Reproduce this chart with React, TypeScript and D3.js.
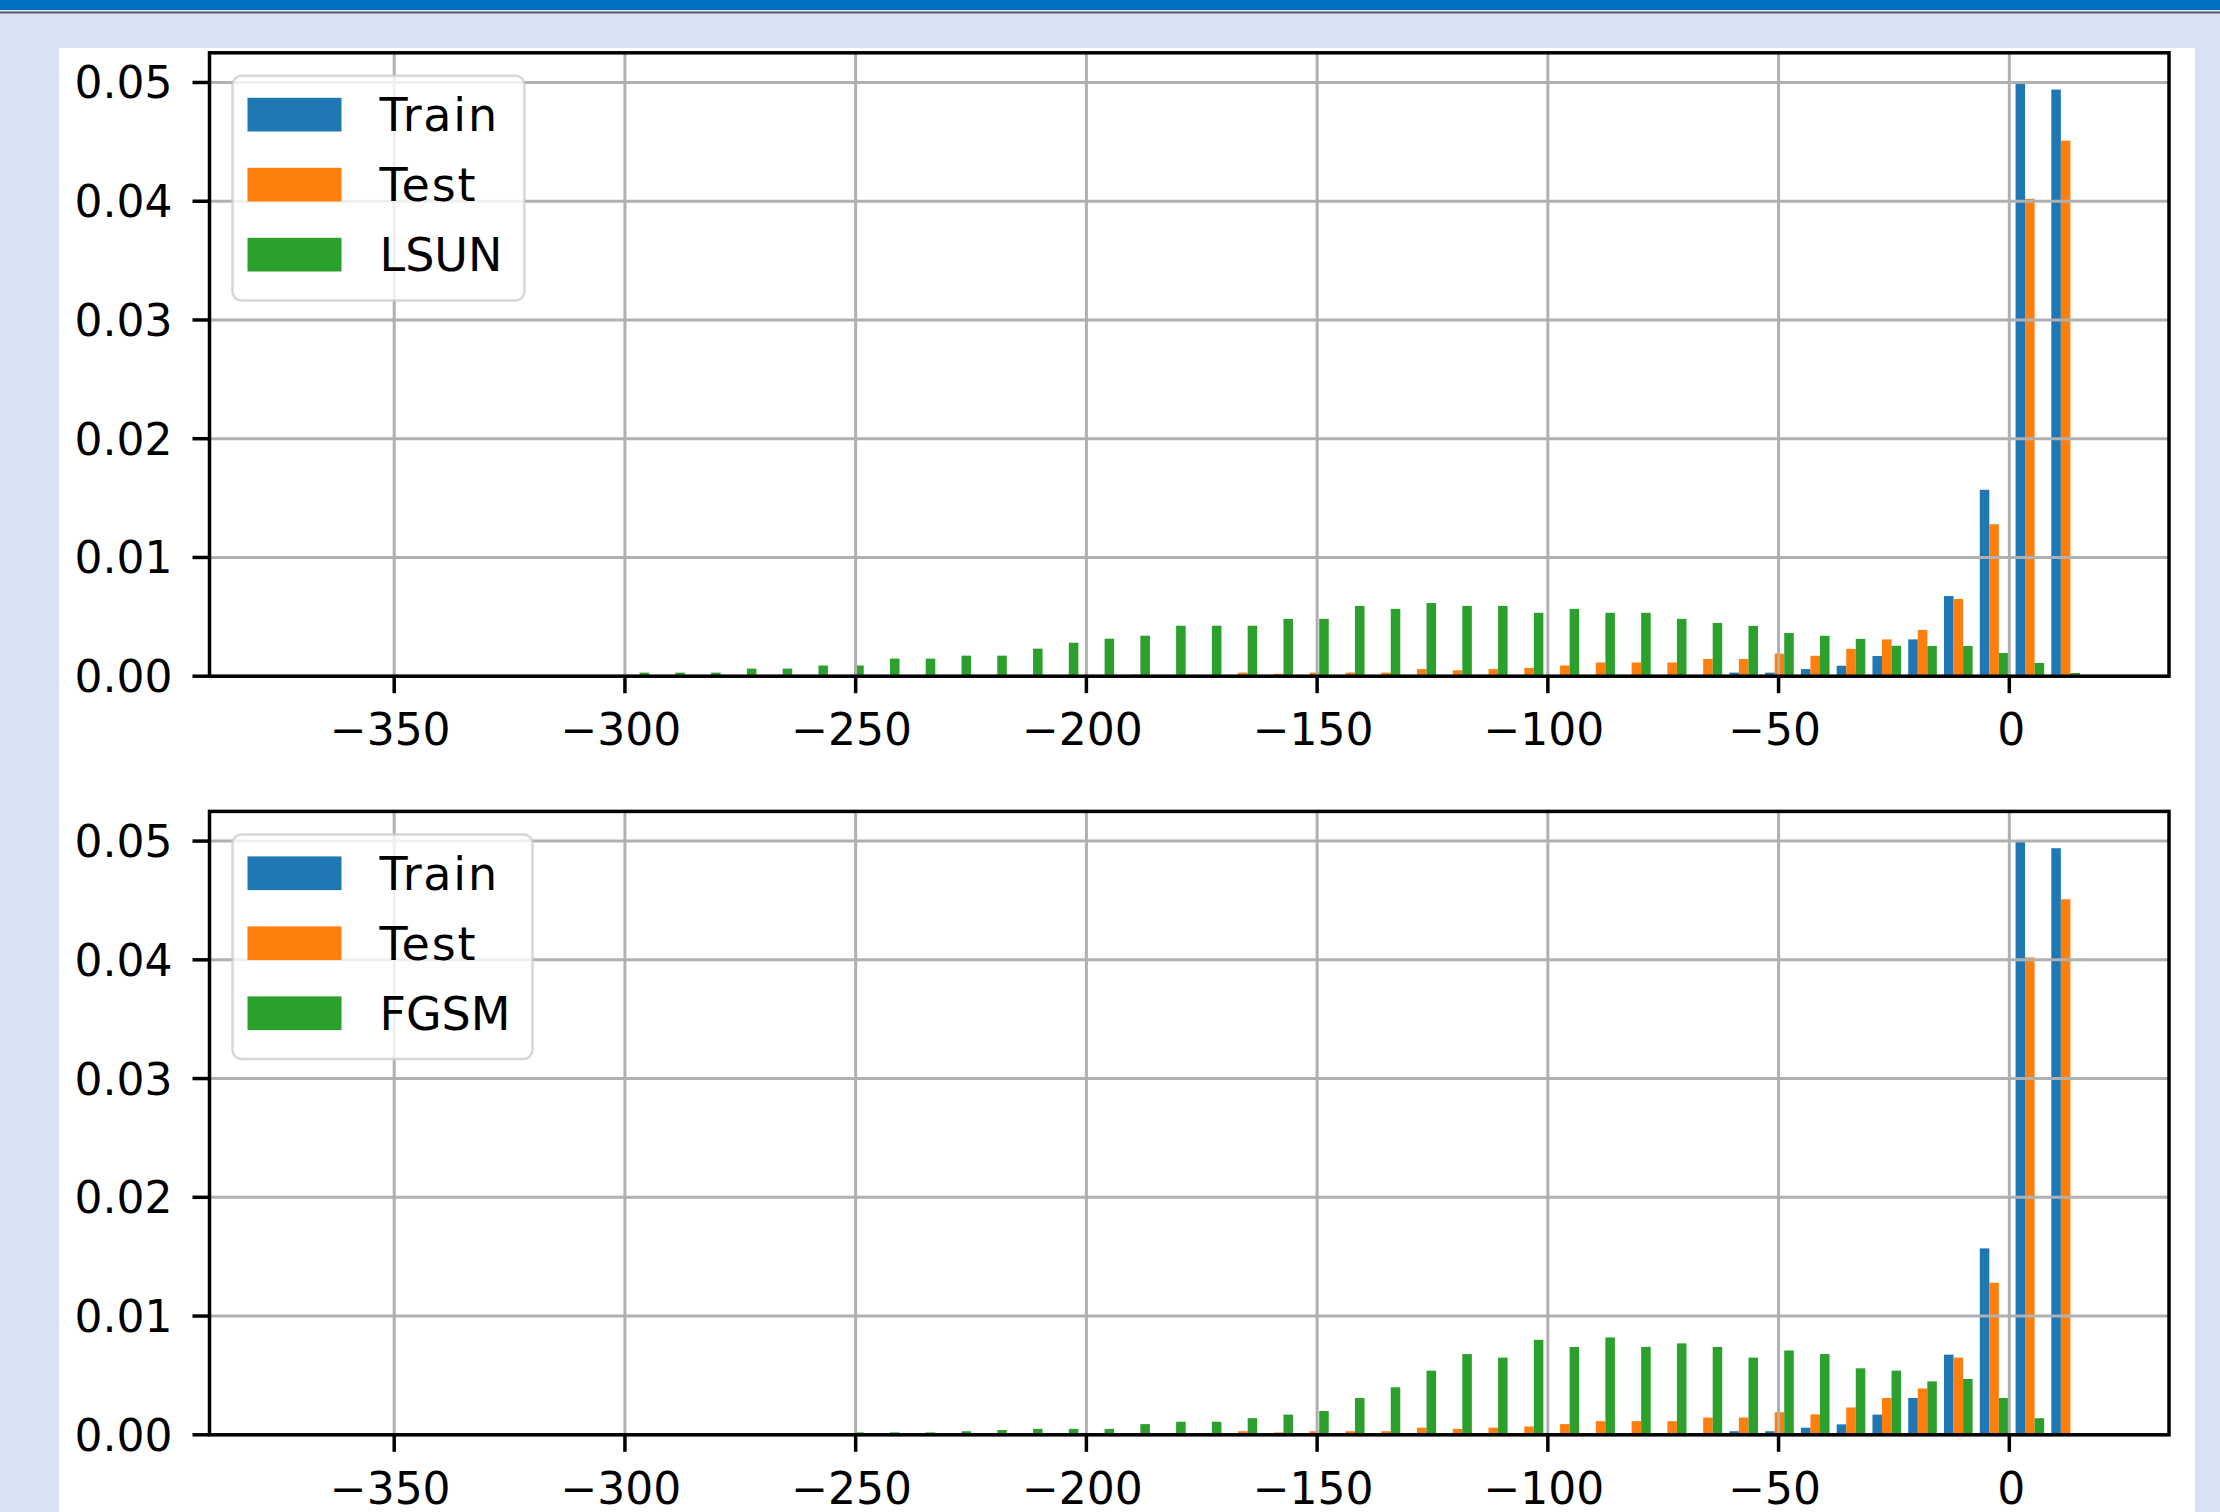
import React from "react";
import * as d3 from "d3";

// histogram bins shared by every series (matplotlib-style, 50 bins)
const binLo = -371.5;
const binHi = 16.08;
const binCount = 50;

// densities per bin
const trainDensity = [
  0, 0, 0, 0, 0, 0, 0, 0, 0, 0,
  0, 0, 0, 0, 0, 0, 0, 0, 0, 0,
  0, 0, 0, 0, 0, 0, 0, 0, 0, 0,
  0, 0, 0, 0, 0, 0, 0, 0, 0, 0,
  0.0003, 0.0003, 0.0006, 0.00088, 0.0017, 0.0031, 0.00675, 0.0157, 0.05, 0.0494,
];

const testDensity = [
  0, 0, 0, 0, 0, 0, 0, 0, 0, 0,
  0, 0, 0, 0, 0, 0, 0, 0, 0, 0,
  0, 0, 0, 0.00015, 0, 0, 0.0003, 0.0002, 0.0003, 0.0003,
  0.0003, 0.0006, 0.0005, 0.0006, 0.0007, 0.0009, 0.00115, 0.00115, 0.00115, 0.00145,
  0.00145, 0.0019, 0.00172, 0.0023, 0.0031, 0.0039, 0.0065, 0.0128, 0.0402, 0.0451,
];

const lsunDensity = [
  0, 0, 0, 0, 0, 0, 0, 0, 0, 0.0003,
  0.0003, 0.0003, 0.00064, 0.00064, 0.0009, 0.0009, 0.00148, 0.00148, 0.00173, 0.00173,
  0.00232, 0.00282, 0.00316, 0.00341, 0.00425, 0.00425, 0.00425, 0.00483, 0.00483, 0.00592,
  0.00567, 0.00617, 0.00592, 0.00592, 0.00534, 0.00567, 0.00534, 0.00534, 0.00483, 0.00448,
  0.00424, 0.00364, 0.0034, 0.00314, 0.00256, 0.00254, 0.00254, 0.00196, 0.00112, 0.00027,
];

const fgsmDensity = [
  0, 0, 0, 0, 0, 0, 0, 0, 0, 0,
  0, 0, 0, 0.00012, 0, 0.0002, 0.0002, 0.0002, 0.0003, 0.0004,
  0.0005, 0.0005, 0.0005, 0.0009, 0.0011, 0.0011, 0.0014, 0.0017, 0.002, 0.0031,
  0.004, 0.0054, 0.0068, 0.0065, 0.008, 0.0074, 0.0082, 0.0074, 0.0077, 0.0074,
  0.0065, 0.0071, 0.0068, 0.0056, 0.0054, 0.0045, 0.0047, 0.0031, 0.0014, 0,
];

const xTicks = [-350, -300, -250, -200, -150, -100, -50, 0];
const yTicks = [0, 0.01, 0.02, 0.03, 0.04, 0.05];

const colors = ["#1f77b4", "#ff7f0e", "#2ca02c"];

const panels = [
  { top: 52.8, labels: ["Train", "Test", "LSUN"], series: [trainDensity, testDensity, lsunDensity] },
  { top: 811.4, labels: ["Train", "Test", "FGSM"], series: [trainDensity, testDensity, fgsmDensity] },
];

const FONT = "DejaVu Sans";
const tickSize = 44;
const legendSize = 46;

// lowercase glyphs come out a bit wider in the original rendering
const spacingFor = (s: string) => (/[a-z]/.test(s) ? 1.8 : 0);

function measure(text: string, size: number) {
  const ctx = document.createElement("canvas").getContext("2d");
  if (!ctx) return text.length * size * 0.62;
  ctx.font = `${size}px "${FONT}"`;
  return ctx.measureText(text).width + text.length * spacingFor(text);
}

function HistPanel({ top, labels, series }: { top: number; labels: string[]; series: number[][] }) {
  const left = 209.5;
  const right = 2169;
  const height = 623.4;
  const bottom = top + height;

  const binW = (binHi - binLo) / binCount;
  const centers = d3.range(binCount).map((i) => binLo + (i + 0.5) * binW);
  const barW = (0.8 * binW) / series.length;

  // 5% margins around the bar extents, like matplotlib autoscale
  const lo = binLo + 0.1 * binW;
  const hi = binHi - 0.1 * binW;
  const pad = (hi - lo) * 0.05;
  const x = d3.scaleLinear().domain([lo - pad, hi + pad]).range([left, right]);
  const yMax = (d3.max(series.flat()) || 0.05) * 1.05;
  const y = d3.scaleLinear().domain([0, yMax]).range([bottom, top]);

  const fmtY = d3.format(".2f");
  const fmtX = (v: number) => (v < 0 ? "\u2212" : "") + Math.abs(v);

  // legend geometry
  const boxX = left + 23;
  const boxY = top + 23;
  const textW = d3.max(labels, (l) => measure(l, legendSize)) || 120;
  const boxW = 147 + textW + 22;
  const boxH = 224.7;

  return (
    <g>
      <rect x={left} y={top} width={right - left} height={height} fill="#ffffff" />
      {series.map((vals, j) => (
        <g key={j} fill={colors[j]}>
          {vals.map((v, i) => {
            if (!v) return null;
            const cx = centers[i] + (j - (series.length - 1) / 2) * barW;
            const x0 = x(cx - barW / 2);
            const x1 = x(cx + barW / 2);
            return <rect key={i} x={x0} y={y(v)} width={x1 - x0} height={bottom - y(v)} />;
          })}
        </g>
      ))}
      {/* grid above the bars */}
      <g stroke="#b0b0b0" strokeWidth={3}>
        {xTicks.map((t) => (
          <line key={t} x1={x(t)} x2={x(t)} y1={top} y2={bottom} />
        ))}
        {yTicks.map((t) => (
          <line key={t} x1={left} x2={right} y1={y(t)} y2={y(t)} />
        ))}
      </g>
      <rect x={left} y={top} width={right - left} height={height} fill="none" stroke="#000" strokeWidth={3.5} />
      <g stroke="#000" strokeWidth={3.5}>
        {xTicks.map((t) => (
          <line key={t} x1={x(t)} x2={x(t)} y1={bottom} y2={bottom + 17} />
        ))}
        {yTicks.map((t) => (
          <line key={t} x1={left - 17} x2={left} y1={y(t)} y2={y(t)} />
        ))}
      </g>
      <g fontFamily={FONT} fontSize={tickSize} fill="#000">
        {xTicks.map((t) => (
          <text key={t} x={x(t) + (t < 0 ? -4 : 2)} y={bottom + 68.7} textAnchor="middle">
            {fmtX(t)}
          </text>
        ))}
        {yTicks.map((t) => (
          <text key={t} x={left - 37} y={y(t) + 16} textAnchor="end">
            {fmtY(t)}
          </text>
        ))}
      </g>
      <g>
        <rect
          x={boxX}
          y={boxY}
          width={boxW}
          height={boxH}
          rx={9}
          fill="#ffffff"
          fillOpacity={0.8}
          stroke="#cccccc"
          strokeOpacity={0.8}
          strokeWidth={2.5}
        />
        {labels.map((l, k) => {
          const py = boxY + 22 + k * 70;
          return (
            <g key={l}>
              <rect x={boxX + 15} y={py} width={94} height={33.7} fill={colors[k]} />
              <text
                x={boxX + 147}
                y={py + 16.85 + 16.8}
                fontFamily={FONT}
                fontSize={legendSize}
                letterSpacing={spacingFor(l)}
                fill="#000"
              >
                {l}
              </text>
            </g>
          );
        })}
      </g>
    </g>
  );
}

export default function App() {
  return (
    <div style={{ position: "absolute", left: 0, top: 0 }}>
      <svg width={2220} height={1512} viewBox="0 0 2220 1512" style={{ display: "block" }}>
        <rect x={0} y={0} width={2220} height={1512} fill="#dae3f3" />
        <rect x={0} y={0} width={2220} height={10} fill="#0070c0" />
        <rect x={0} y={10} width={2220} height={1.5} fill="#e4ebf6" />
        <rect x={0} y={11.5} width={2220} height={2} fill="#4f5b69" />
        <rect x={59} y={48} width={2136} height={1464} fill="#ffffff" />
        {panels.map((p) => (
          <HistPanel key={p.top} top={p.top} labels={p.labels} series={p.series} />
        ))}
      </svg>
    </div>
  );
}
